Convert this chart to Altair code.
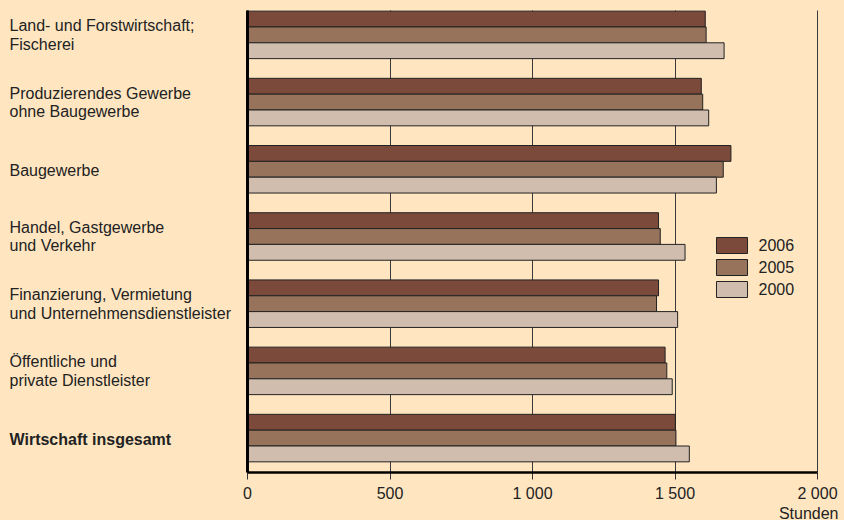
import altair as alt
import pandas as pd

categories = [
    "Land- und Forstwirtschaft;\nFischerei",
    "Produzierendes Gewerbe\nohne Baugewerbe",
    "Baugewerbe",
    "Handel, Gastgewerbe\nund Verkehr",
    "Finanzierung, Vermietung\nund Unternehmensdienstleister",
    "Öffentliche und\nprivate Dienstleister",
    "Wirtschaft insgesamt",
]
years = ["2006", "2005", "2000"]
v2006 = [1608, 1594, 1698, 1444, 1444, 1467, 1503]
v2005 = [1611, 1599, 1671, 1450, 1437, 1473, 1505]
v2000 = [1674, 1620, 1647, 1537, 1511, 1492, 1552]
colors = ["#7b4a3a", "#96735a", "#d1bdae"]
x_ticks = [0, 500, 1000, 1500, 2000]

rows = []
for yr, vals in zip(years, [v2006, v2005, v2000]):
    for c, v in zip(categories, vals):
        rows.append({"Bereich": c, "Jahr": yr, "Stunden": v})
df = pd.DataFrame(rows)

FONT = "Liberation Sans"

chart = alt.Chart(df).mark_bar(stroke="#222222", strokeWidth=1).encode(
    x=alt.X(
        "Stunden:Q",
        scale=alt.Scale(domain=[0, 2000], nice=False),
        axis=alt.Axis(
            values=x_ticks,
            grid=True,
            gridColor="#3a3a3a",
            gridWidth=1,
            domainColor="#000000",
            domainWidth=2.5,
            tickColor="#333333",
            tickSize=7,
            labelPadding=6,
            labelFontSize=16,
            labelFont=FONT,
            labelColor="#222222",
            labelFlush=False,
            labelOverlap=False,
            labelExpr="replace(format(datum.value, ','), ',', ' ')",
            title="Stunden",
            titleFont=FONT,
            titleFontSize=16,
            titleFontWeight="normal",
            titleColor="#222222",
            titleAnchor="end",
            titleAlign="right",
            titleBaseline="alphabetic",
            titleX=591,
            titleY=46,
        ),
    ),
    y=alt.Y(
        "Bereich:N",
        sort=categories,
        scale=alt.Scale(paddingInner=0.293, paddingOuter=0.084, align=0.1),
        axis=alt.Axis(
            title=None,
            ticks=False,
            domainColor="#000000",
            domainWidth=3,
            labelAlign="left",
            labelBaseline="middle",
            labelPadding=238,
            labelFontSize=16,
            labelFont=FONT,
            labelColor="#222222",
            labelLineHeight=18.5,
            labelLimit=0,
            labelExpr="split(datum.value, '\\n')",
            labelOffset={
                "condition": {"test": "indexof(datum.value, '\\n') >= 0", "value": -8.5},
                "value": 1.5,
            },
            labelFontWeight={
                "condition": {"test": "datum.value == 'Wirtschaft insgesamt'", "value": "bold"},
                "value": "normal",
            },
            zindex=1,
        ),
    ),
    yOffset=alt.YOffset("Jahr:N", sort=years, scale=alt.Scale(paddingInner=0, paddingOuter=0)),
    color=alt.Color(
        "Jahr:N",
        sort=years,
        scale=alt.Scale(domain=years, range=colors),
        legend=alt.Legend(
            title=None,
            orient="none",
            legendX=476.5,
            legendY=227,
            padding=0,
            symbolType="M-1.94,-1H1.94V1H-1.94Z",
            symbolSize=256,
            symbolStrokeColor="#222222",
            symbolStrokeWidth=1,
            symbolOpacity=1,
            labelFontSize=16,
            labelFont=FONT,
            labelColor="#222222",
            labelOffset=18,
            rowPadding=1,
        ),
    ),
).properties(
    width=570,
    height=462,
    autosize=alt.AutoSizeParams(type="none"),
    padding={"left": 247, "top": 10, "right": 27, "bottom": 48},
    background="#ffe6c1",
).configure_view(stroke=None)

chart.save("out.html", embed_options={"renderer": "svg", "actions": False})
